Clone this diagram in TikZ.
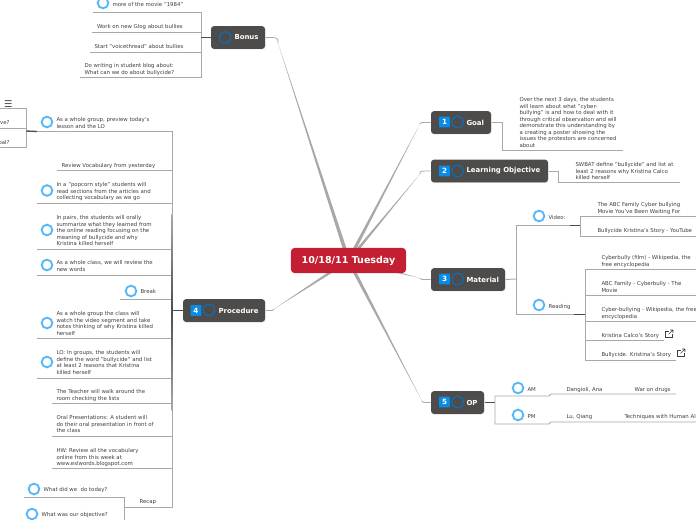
\documentclass[tikz,border=0pt]{standalone}
\usepackage{fontspec}
\setmainfont{DejaVu Sans}
\usetikzlibrary{backgrounds,shadows}

\definecolor{boxgray}{HTML}{4D4C4A}
\definecolor{rootred}{HTML}{C41E32}
\definecolor{twiggray}{HTML}{A8A8A8}
\definecolor{leafink}{HTML}{3F3F3F}
\definecolor{ringblue}{HTML}{4DB4F7}
\definecolor{ringglow}{HTML}{BFE3FB}
\definecolor{boxring}{HTML}{0A6FB8}
\definecolor{badgeblue}{HTML}{0A8BE6}

\tikzset{every picture/.style={line width=0.75pt}}
\tikzset{
  leaf/.style={anchor=north west,inner sep=0pt,align=left,text=leafink,yshift=1.5pt,
    font=\fontsize{4.05}{4.9}\selectfont,execute at begin node={\rule{0pt}{3.2pt}}},
  leafr/.style={leaf,anchor=north east},
  twig/.style={draw=twiggray,line width=0.7pt},
  stem/.style={draw=boxgray,line width=1pt},
  trunk/.style={fill=twiggray},
  ring/.style={circle,draw=ringblue,line width=1.1pt,minimum size=8pt,inner sep=0pt,
    preaction={draw=ringglow,line width=1.7pt}},
  boxring/.style={circle,draw=boxring,line width=0.9pt,minimum size=8.6pt,inner sep=0pt},
  box/.style={rectangle,rounded corners=2.2pt,fill=boxgray,minimum height=17pt,inner sep=0pt,
    drop shadow={shadow xshift=0.3pt,shadow yshift=-0.5pt,opacity=0.25}},
  boxtext/.style={anchor=west,inner sep=0pt,text=white,font=\fontsize{5.2}{6}\selectfont\bfseries},
  badge/.style={rectangle,rounded corners=0.4pt,fill=badgeblue,minimum size=8.2pt,inner sep=0pt,
    text=white,font=\fontsize{5.4}{6}\selectfont\bfseries},
  root/.style={rectangle,rounded corners=3pt,fill=rootred,text=white,minimum width=86.5pt,
    minimum height=19pt,inner sep=0pt,font=\fontsize{7.15}{8}\selectfont\bfseries}
}
% thick near the root, thin at the box
\newcommand{\mainbranch}[3]{
  \fill[trunk] ([#3=-1.5pt]root.center) -- (#2) -- ([#3=1.5pt]root.center) -- cycle;
  \draw[twig,line width=0.6pt] (#2) .. controls (#2 |- #1) .. (#1);
}
\newcommand{\linkicon}[1]{
  \begin{scope}[shift={(#1)}]
    \draw[leafink,line width=0.45pt] (-0.5,-3) -- (-3.5,-3) -- (-3.5,3) -- (3,3) -- (3,0);
    \draw[leafink,line width=0.45pt] (-0.5,0.5) -- (4,-4) (1,-4) -- (4,-4) -- (4,-1);
  \end{scope}
}

\begin{document}
\begin{tikzpicture}[x=0.75pt,y=0.75pt,yscale=-1,xscale=1]
\useasboundingbox (0,0) rectangle (696,520);

% Root
\node[root] (root) at (348.5,260.5) {10/18/11 Tuesday};

% Bonus
\node[box,minimum width=40.5pt] (bonusbox) at (238,37.5) {};
\node[boxring] (bonusring) at (225,37.5) {};
\node[boxtext] (bonustext) at (234,37.5) {Bonus};
\coordinate (bonusbend) at (278,43);
\coordinate (bonusspine) at (201,37.5);
\node[ring] (movring) at (103,3) {};
\node[leaf] (mov) at (112,4) {more of the movie "1984"};
\coordinate (movl) at (93,12.5);
\node[leaf] (glog) at (96.5,26) {Work on new Glog about bullies};
\coordinate (glogl) at (92,32.5);
\node[leaf] (voice) at (94,46) {Start "voicethread" about bullies};
\coordinate (voicel) at (90,52);
\node[leaf] (blog) at (84,65) {Do writing in student blog about:\\What can we do about bullycide?};
\coordinate (blogl) at (80,77.5);
\draw[twig] (movl) -| (bonusspine);
\draw[twig] (glogl) -| (bonusspine);
\draw[twig] (voicel) -| (bonusspine);
\draw[twig] (blogl) -| (bonusspine);
\draw[stem] (bonusbox.west) -- (bonusspine);

% Procedure
\node[box,minimum width=61.5pt] (procbox) at (224,310.5) {};
\node[badge] (procbadge) at (196,310.5) {4};
\node[boxring] (procring) at (209,310) {};
\node[boxtext] (proctext) at (218,310.5) {Procedure};
\coordinate (procbend) at (274,309);
\coordinate (procspine) at (172,310.5);

\node[leafr] (menu) at (13,102) {\fontsize{7}{8}\selectfont ☰};
\node[leafr] (ive) at (10,122) {ive?};
\coordinate (ivel) at (0,128);
\node[leafr] (oal) at (10,142) {oal?};
\coordinate (oall) at (0,147.5);
\coordinate (previewspine) at (26,131);
\coordinate (menul) at (0,108.5);
\draw[twig] (menul) -| (previewspine);
\draw[twig] (ivel) -- (ivel -| previewspine);
\draw[twig] (oall) -| (previewspine);
\node[ring] (previewring) at (47,122) {};
\node[leaf] (preview) at (56,119) {As a whole group, preview today's\\lesson and the LO};
\coordinate (previewl) at (37,131.5);
\draw[twig] (previewl) -| (procspine);
\draw[stem] (previewl) -- (previewspine);

\node[leaf] (vocab) at (61,165) {Review Vocabulary from yesterday};
\coordinate (vocabl) at (57,170.5);
\node[ring] (popring) at (47,190.5) {};
\node[leaf] (pop) at (56,184) {In a "popcorn style" students will\\read sections from the articles and\\collecting vocabulary as we go};
\coordinate (popl) at (37,203);
\node[ring] (pairring) at (47,230) {};
\node[leaf] (pair) at (56,217) {In pairs, the students will orally\\summarize what they learned from\\the online reading focusing on the\\meaning of bullycide and why\\Kristina killed herself};
\coordinate (pairl) at (37,249);
\node[ring] (classring) at (47,265) {};
\node[leaf] (class) at (56,262) {As a whole class, we will review the\\new words};
\coordinate (classl) at (37,275);
\node[ring] (breakring) at (131,291) {};
\node[leaf] (break) at (140,291) {Break};
\coordinate (breakl) at (120,299.5);
\node[ring] (videoring) at (47,323) {};
\node[leaf] (segment) at (56,313) {As a whole group the class will\\watch the video segment and take\\notes thinking of why Kristina killed\\herself};
\coordinate (segmentl) at (37,338);
\node[ring] (groupring) at (47,362) {};
\node[leaf] (group) at (56,352) {LO: In groups, the students will\\define the word "bullycide" and list\\at least 2 reasons that Kristina\\killed herself};
\coordinate (groupl) at (37,378);
\node[leaf] (teacher) at (56,391) {The Teacher will walk around the\\room checking the lists};
\coordinate (teacherl) at (52,403.5);
\node[leaf] (oral) at (56,417) {Oral Presentations: A student will\\do their oral presentation in front of\\the class};
\coordinate (orall) at (52,436);
\node[leaf] (hw) at (56,450) {HW: Review all the vocabulary\\online from this week at\\www.eslwords.blogspot.com};
\coordinate (hwl) at (52,468);
\node[leaf] (recap) at (139,501) {Recap};
\coordinate (recapl) at (124,507);
\foreach \n in {vocabl,popl,pairl,classl,breakl,segmentl,groupl,teacherl,orall,hwl,recapl}
  \draw[twig] (\n) -| (procspine);
% the spine darkens towards the box
\coordinate (spinetop) at (171.4,215);
\coordinate (spinemid) at (172.6,310.5);
\coordinate (spinelow) at (171.4,410);
\shade[top color=twiggray,bottom color=boxgray] (spinetop) rectangle (spinemid);
\shade[top color=boxgray,bottom color=twiggray] (spinemid) rectangle (spinelow);
\draw[stem] (procbox.west) -- (procspine);
\node[ring] (todayring) at (34,489) {};
\node[leaf] (today) at (43,489) {What did we~ do today?};
\coordinate (todayl) at (24,497.5);
\node[ring] (objring) at (32,514) {};
\node[leaf] (obj) at (41,514) {What was our objective?};
\coordinate (objl) at (20,523);
\draw[twig] (todayl) -| (recapl);
\draw[twig] (objl) -| (recapl);

% Goal
\node[box,minimum width=45pt] (goalbox) at (461,122.5) {};
\node[badge] (goalbadge) at (444.5,122) {1};
\node[boxring] (goalring) at (457.5,122) {};
\node[boxtext] (goaltext) at (466,122.5) {Goal};
\coordinate (goalbend) at (420,124);
\node[leaf] (goaldesc) at (519,99) {Over the next 3 days, the students\\will learn about what "cyber-\\bullying" is and how to deal with it\\through critical observation and will\\demonstrate this understanding by\\a creating a poster showing the\\issues the protestors are concerned\\about};
\coordinate (goalc) at (502,150);
\coordinate (goale) at (623,150);
\draw[twig] (goalbox.east) -| (goalc) -- (goale);

% Learning Objective
\node[box,minimum width=87.75pt] (lobox) at (489.5,171) {};
\node[badge] (lobadge) at (444.5,171) {2};
\node[boxring] (loring) at (457.5,171) {};
\node[boxtext] (lotext) at (466,171) {Learning Objective};
\coordinate (lobend) at (420,174);
\node[leaf] (lodesc) at (575,164) {SWBAT define "bullycide" and list at\\least 2 reasons why Kristina Calco\\killed herself};
\coordinate (loc) at (558,182);
\coordinate (loe) at (680,182);
\draw[twig] (lobox.east) -| (loc) -- (loe);

% Material
\node[box,minimum width=55.5pt] (matbox) at (468,279.5) {};
\node[badge] (matbadge) at (444.5,279) {3};
\node[boxring] (matring) at (457.5,279) {};
\node[boxtext] (mattext) at (466,279.5) {Material};
\coordinate (matbend) at (420,278);
\coordinate (matspine) at (516,279);
\node[ring] (videoicon) at (539,216) {};
\node[leaf] (video) at (548,217) {Video:};
\coordinate (videol) at (570,225.5);
\coordinate (videospine) at (580,225.5);
\node[ring] (readicon) at (539,305) {};
\node[leaf] (read) at (548,306) {Reading};
\coordinate (readl) at (574,314.5);
\coordinate (readspine) at (585,314.5);
\draw[twig] (videol) -| (matspine);
\draw[twig] (readl) -| (matspine);
\draw[stem] (videol) -- (videospine);
\draw[stem] (readl) -- (readspine);
\draw[twig] (matbox.east) -- (matspine);
\node[leaf] (abc) at (597,204) {The ABC Family Cyber bullying\\Movie You've Been Waiting For};
\coordinate (abcr) at (696,216);
\node[leaf] (tube) at (597,230) {Bullycide Kristina's Story - YouTube};
\coordinate (tuber) at (696,236);
\draw[twig] (abcr) -| (videospine);
\draw[twig] (tuber) -| (videospine);
\node[leaf] (wiki) at (601,257) {Cyberbully (film) - Wikipedia, the\\free encyclopedia};
\coordinate (wikir) at (696,269);
\node[leaf] (movie) at (601,283) {ABC Family - Cyberbully - The\\Movie};
\coordinate (movier) at (696,295);
\node[leaf] (cyber) at (601,309) {Cyber-bullying - Wikipedia, the free\\encyclopedia};
\coordinate (cyberr) at (696,321);
\node[leaf] (calco) at (601,335) {Kristina Calco's Story};
\coordinate (calcor) at (664,340.5);
\node[leaf] (story) at (601,354) {Bullycide. Kristina's Story};
\coordinate (storyr) at (676,360.5);
\foreach \n in {wikir,movier,cyberr,calcor,storyr}
  \draw[twig] (\n) -| (readspine);
\linkicon{669,334}
\linkicon{681,353}

% OP
\node[box,minimum width=39.75pt] (opbox) at (457.5,402.5) {};
\node[badge] (opbadge) at (444.5,402) {5};
\node[boxring] (opring) at (457.5,402) {};
\node[boxtext] (optext) at (466,402.5) {OP};
\coordinate (opbend) at (422,401);
\coordinate (opspine) at (495,402.5);
\draw[stem] (opbox.east) -- (opspine);
\node[ring] (amring) at (518,388) {};
\node[leaf] (am) at (527,389) {AM};
\coordinate (aml) at (549,396);
\coordinate (amk) at (551,394);
\node[leaf] (amname) at (566,389) {Dangioli, Ana};
\node[leaf] (amtopic) at (634,389) {War on drugs};
\coordinate (amr) at (676,394);
\draw[twig] (opspine) |- (aml) -- (amk) -- (amr);
\node[ring] (pmring) at (518,415) {};
\node[leaf] (pm) at (527,416) {PM};
\coordinate (pml) at (549,424);
\coordinate (pmk) at (551,422);
\node[leaf] (pmname) at (566,416) {Lu, Qiang};
\node[leaf] (pmtopic) at (624,416) {Techniques with Human Al};
\coordinate (pmr) at (696,422);
\draw[twig] (opspine) |- (pml) -- (pmk) -- (pmr);

% Branches from the root
\begin{scope}[on background layer]
\mainbranch{bonusbox.east}{bonusbend}{xshift}
\mainbranch{goalbox.west}{goalbend}{xshift}
\mainbranch{lobox.west}{lobend}{xshift}
\mainbranch{matbox.west}{matbend}{yshift}
\mainbranch{opbox.west}{opbend}{xshift}
\mainbranch{procbox.east}{procbend}{yshift}
\end{scope}
\end{tikzpicture}
\end{document}
